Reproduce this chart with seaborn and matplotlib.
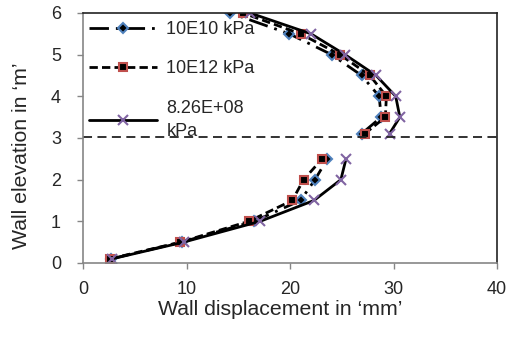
import matplotlib
matplotlib.use("Agg")
import matplotlib.pyplot as plt
from matplotlib.lines import Line2D
import seaborn as sns
import pandas as pd

# wall elevation (m), lower and upper segments
elev_low = [0.1, 0.5, 1.0, 1.5, 2.0, 2.5]
elev_up = [3.1, 3.5, 4.0, 4.5, 5.0, 5.5, 6.0]

# wall displacement (mm)
disp_10e10_low = [2.7, 9.5, 16.5, 21.0, 22.4, 23.6]
disp_10e10_up = [26.9, 28.8, 28.6, 26.9, 24.0, 19.9, 14.2]
disp_10e12_low = [2.6, 9.4, 16.0, 20.2, 21.3, 23.1]
disp_10e12_up = [27.2, 29.2, 29.3, 27.7, 24.8, 21.0, 15.4]
disp_826e08_low = [2.8, 9.7, 17.1, 22.3, 24.9, 25.4]
disp_826e08_up = [29.6, 30.6, 30.2, 28.3, 25.3, 22.0, 16.1]

labels = ["10E10 kPa", "10E12 kPa", "8.26E+08\nkPa"]
level_line = 3.02

sns.set_style("white")
plt.rcParams['font.family'] = ['Liberation Sans', 'DejaVu Sans']

fig = plt.figure(figsize=(5.2, 3.4), dpi=100)
ax = fig.add_axes([0.16, 0.2265, 0.796, 0.7355])

series = [
    (disp_10e10_low, disp_10e10_up, 'D', '#4F81BD', (0, (7, 2.5, 1, 2.5)), 5.5),
    (disp_10e12_low, disp_10e12_up, 's', '#C0504D', (0, (3, 1.5)), 6),
    (disp_826e08_low, disp_826e08_up, 'x', '#8064A2', '-', 7),
]

handles = []
for (low, up, mk, col, ls, ms), lab in zip(series, labels):
    df = pd.DataFrame({
        'disp': low + up,
        'elev': elev_low + elev_up,
        'seg': [0] * len(low) + [1] * len(up),
    })
    sns.lineplot(data=df, x='disp', y='elev', units='seg', estimator=None,
                 sort=False, color='black', linewidth=2, linestyle=ls,
                 marker=mk, markersize=ms, markerfacecolor='black',
                 markeredgecolor=col, markeredgewidth=1.5, ax=ax)
    handles.append(Line2D([], [], color='black', linewidth=2, linestyle=ls,
                          marker=mk, markersize=ms, markerfacecolor='black',
                          markeredgecolor=col, markeredgewidth=1.5, label=lab))

ax.axhline(level_line, color='#222222', linewidth=1.3, linestyle=(0, (5, 3)))

ax.set_xlim(0, 40)
ax.set_ylim(0, 6)
ax.set_xticks([0, 10, 20, 30, 40])
ax.set_yticks([0, 1, 2, 3, 4, 5, 6])
ax.tick_params(axis='both', labelsize=13, length=4, width=1, color='#868686',
               direction='out', bottom=True, left=True)
ax.tick_params(axis='y', pad=12)
ax.tick_params(axis='x', pad=9)
for s in ['left', 'bottom']:
    ax.spines[s].set_color('#868686')
    ax.spines[s].set_linewidth(1.2)
for s in ['top', 'right']:
    ax.spines[s].set_color('#222222')
    ax.spines[s].set_linewidth(1.2)

ax.set_xlabel("Wall displacement in \u2018mm\u2019", fontsize=15.3)
ax.set_ylabel("Wall elevation in \u2018m\u2019", fontsize=15.3)
ax.xaxis.set_label_coords(0.476, -0.184)
ax.yaxis.set_label_coords(-0.150, 0.428)
ax.xaxis.label.set_va('center')
ax.yaxis.label.set_va('center')

leg = ax.legend(handles=handles, loc='upper left', bbox_to_anchor=(0.0, 0.99),
                frameon=False, fontsize=13, handlelength=3.8, handletextpad=0.5,
                labelspacing=1.25, borderaxespad=0.1, borderpad=0.2)
for t in leg.get_texts():
    t.set_linespacing(1.45)

fig.savefig("out.png", dpi=100)
plt.close(fig)
